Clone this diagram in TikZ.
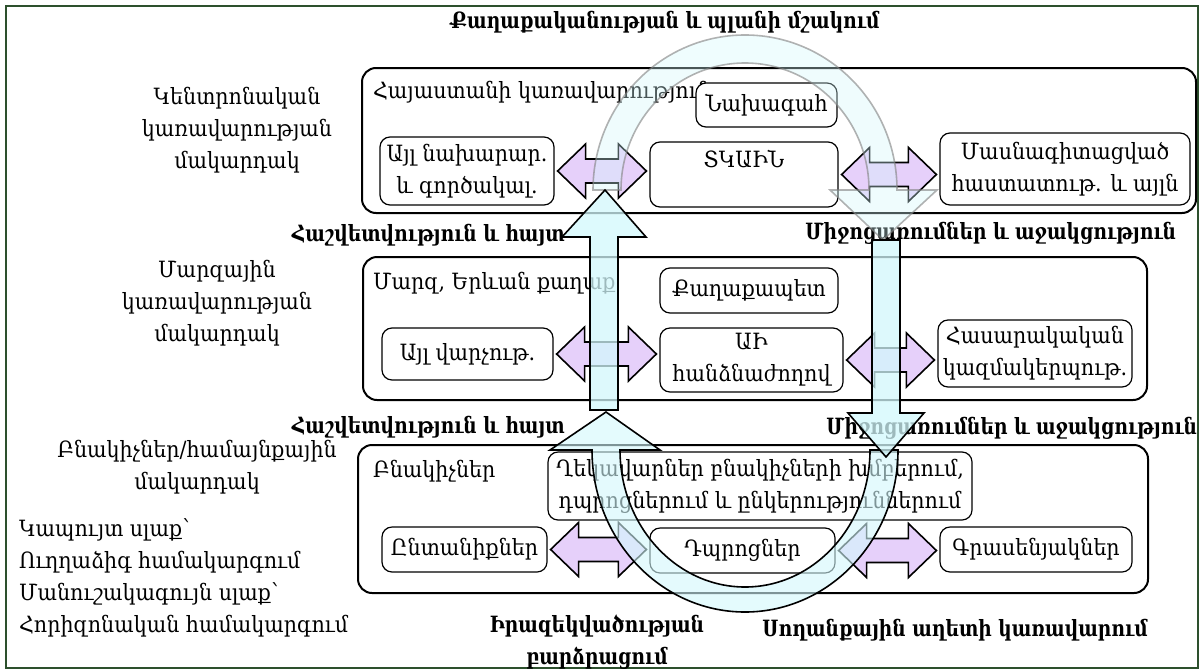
\documentclass[tikz,border=0pt]{standalone}
\usepackage{fontspec}
\setmainfont{DejaVu Serif}[FakeStretch=0.92]
\newfontfamily\headfont{DejaVu Serif}[FakeStretch=0.83]
\usetikzlibrary{calc}

\definecolor{upcyan}{RGB}{210,248,252}
\definecolor{lilac}{RGB}{226,200,250}
\definecolor{framegreen}{RGB}{45,80,45}

\newcommand\twoway[2]{%
  \draw[duo] let \p1=($(#1.east)+(1.5pt,0pt)$), \p2=($(#2.west)-(1.5pt,0pt)$) in
    (\x1,\y1) -- (\x1+14pt,\y1+13.5pt) -- (\x1+14pt,\y1+6pt) -- (\x2-14pt,\y1+6pt)
    -- (\x2-14pt,\y1+13.5pt) -- (\x2,\y1) -- (\x2-14pt,\y1-13.5pt) -- (\x2-14pt,\y1-6pt)
    -- (\x1+14pt,\y1-6pt) -- (\x1+14pt,\y1-13.5pt) -- cycle;}

\begin{document}
\begin{tikzpicture}[x=0.5pt,y=-0.5pt,
  font=\fontsize{11.2}{16}\selectfont,
  level/.style={draw,line width=1pt,rounded corners=7pt,fill=white,inner sep=0pt},
  unit/.style={draw,line width=0.6pt,rounded corners=5pt,fill=white,align=center,inner sep=1pt},
  tag/.style={align=center},
  head/.style={font=\fontsize{11.2}{16}\selectfont\headfont\bfseries,inner sep=1pt,align=center},
  duo/.style={draw,fill=lilac,fill opacity=0.85,line width=0.8pt,line join=miter},
  vup/.style={draw,fill=upcyan,fill opacity=0.75,line width=0.8pt,line join=miter},
  ring/.style={fill=upcyan,fill opacity=0.6,line width=0.8pt}]

  \useasboundingbox (0,0) rectangle (1202,669);
  \draw[framegreen,line width=0.8pt] (6,6) rectangle (1198,668);

  % levels
  \node[level,minimum width=417pt,minimum height=72.5pt] (central) at (779,140.5) {};
  \node[level,minimum width=392pt,minimum height=71.5pt] (region) at (755,328.5) {};
  \node[level,minimum width=395pt,minimum height=74pt] (people) at (753,519) {};

  \node[anchor=west] (centraltitle) at (366,92) {Հայաստանի կառավարություն};
  \node[anchor=west] (regiontitle) at (366,283) {Մարզ, Երևան քաղաք};
  \node[anchor=west] (peopletitle) at (366,471) {Բնակիչներ};

  \node[tag] (lvlcentral) at (237,130) {Կենտրոնական\\կառավարության\\մակարդակ};
  \node[tag] (lvlregion) at (217,303) {Մարզային\\կառավարության\\մակարդակ};
  \node[tag] (lvlpeople) at (197,467) {Բնակիչներ/համայնքային\\մակարդակ};
  \node[align=left,anchor=west] (legend) at (12,578) {Կապույտ սլաք՝\\Ուղղաձիգ համակարգում\\Մանուշակագույն սլաք՝\\Հորիզոնական համակարգում};

  % central level
  \node[unit,minimum width=87pt,minimum height=34pt] (ministries) at (467,171) {Այլ նախարար.\\և գործակալ.};
  \node[unit,minimum width=94pt,minimum height=32.5pt] (tkain) at (744,174.5) {ՏԿԱԻՆ\\~};
  \node[unit,minimum width=70.5pt,minimum height=22pt] (president) at (766.5,105) {Նախագահ};
  \node[unit,minimum width=125pt,minimum height=36pt] (experts) at (1065,169) {Մասնագիտացված\\հաստատութ. և այլն};

  % regional level
  \node[unit,minimum width=85.5pt,minimum height=26pt] (offices2) at (467.5,354) {Այլ վարչութ.};
  \node[unit,minimum width=89pt,minimum height=22.5pt] (mayor) at (749,290.5) {Քաղաքապետ};
  \node[unit,minimum width=91.5pt,minimum height=32pt] (commission) at (751.5,360) {ԱԻ\\հանձնաժողով};
  \node[unit,minimum width=97pt,minimum height=33.5pt] (ngo) at (1035,353.5) {Հասարակական\\կազմակերպութ.};

  % residents level
  \node[unit,minimum width=212pt,minimum height=34pt] (leaders) at (760,486) {Ղեկավարներ բնակիչների խմբերում,\\դպրոցներում և ընկերություններում};
  \node[unit,minimum width=82.5pt,minimum height=22.5pt] (families) at (464.5,549.5) {Ընտանիքներ};
  \node[unit,minimum width=92.5pt,minimum height=22.5pt] (schools) at (742.5,550.5) {Դպրոցներ};
  \node[unit,minimum width=96pt,minimum height=22.5pt] (firms) at (1036,549.5) {Գրասենյակներ};

  % labels of the loop
  \node[head] (policy) at (665,22) {Քաղաքականության և պլանի մշակում};
  \node[head,anchor=east] (report1) at (567,235) {Հաշվետվություն և հայտ};
  \node[head,anchor=west] (support1) at (803,233) {Միջոցառումներ և աջակցություն};
  \node[head,anchor=east] (report2) at (567,427) {Հաշվետվություն և հայտ};
  \node[head,anchor=west] (support2) at (824,428) {Միջոցառումներ և աջակցություն};
  \node[head] (awareness) at (597,642) {Իրազեկվածության\\բարձրացում};
  \node[head,anchor=west] (landslide) at (760,630) {Սողանքային աղետի կառավարում};

  % horizontal links
  \twoway{ministries}{tkain}
  \twoway{tkain}{experts}
  \twoway{offices2}{commission}
  \twoway{commission}{ngo}
  \twoway{families}{schools}
  \twoway{schools}{firms}

  % loop
  \draw[ring,draw=gray,draw opacity=0.6,fill opacity=0.35] (593,190)
    arc[start angle=180,end angle=0,x radius=76pt,y radius=77.5pt]
    -- (937,190) -- (883,240) -- (830,190) -- (869,190)
    arc[start angle=0,end angle=180,x radius=62pt,y radius=63.5pt] -- cycle;
  \draw[ring] (898,450)
    arc[start angle=0,end angle=-180,x radius=76.5pt,y radius=81pt]
    -- (550,450) -- (606,412) -- (660,450) -- (620,450)
    arc[start angle=180,end angle=360,x radius=62.5pt,y radius=68.5pt] -- cycle;

  \coordinate (upfoot) at (604,410);
  \coordinate (uptip) at (605,190);
  \coordinate (downtop) at (886,240);
  \coordinate (downtip) at (886,457);

  \draw[vup] let \p1=(upfoot), \p2=(uptip) in
    (\x1-7pt,\y1) -- (\x1-7pt,\y2-23.5pt) -- (\x1-21pt,\y2-23.5pt) -- (\x2,\y2)
    -- (\x1+21pt,\y2-23.5pt) -- (\x1+7pt,\y2-23.5pt) -- (\x1+7pt,\y1) -- cycle;
  \draw[vup] let \p1=(downtop), \p2=(downtip) in
    (\x1-7pt,\y1) -- (\x1-7pt,\y2+22pt) -- (\x1-19pt,\y2+22pt) -- (\x2,\y2)
    -- (\x1+19pt,\y2+22pt) -- (\x1+7pt,\y2+22pt) -- (\x1+7pt,\y1) -- cycle;

\end{tikzpicture}
\end{document}
